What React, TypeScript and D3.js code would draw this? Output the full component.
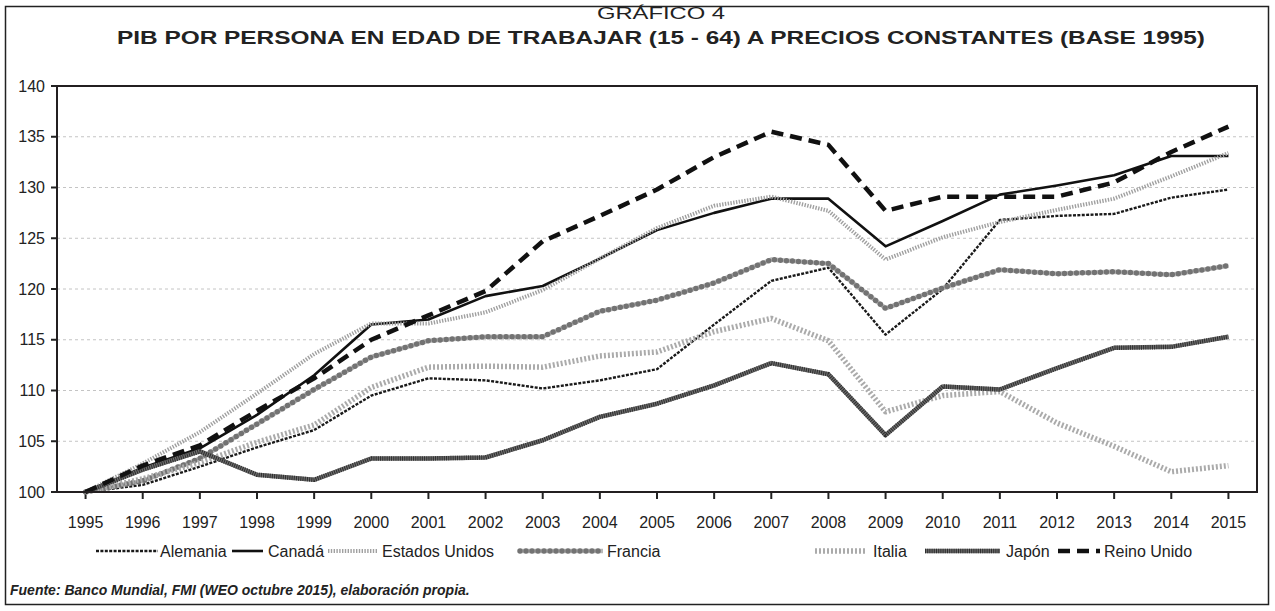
import React from "react";
import * as d3 from "d3";

const years = ["1995","1996","1997","1998","1999","2000","2001","2002","2003","2004","2005","2006","2007","2008","2009","2010","2011","2012","2013","2014","2015"];
const yTicks = [100, 105, 110, 115, 120, 125, 130, 135, 140];

const alemania = [100, 100.7, 102.5, 104.4, 106.1, 109.5, 111.2, 111.0, 110.2, 111.0, 112.1, 116.5, 120.8, 122.1, 115.5, 120.0, 126.8, 127.2, 127.4, 129.0, 129.8];
const canada = [100, 102.4, 104.3, 107.6, 111.5, 116.5, 117.0, 119.3, 120.3, 123.0, 125.8, 127.5, 128.9, 128.9, 124.2, 126.7, 129.3, 130.2, 131.2, 133.1, 133.1];
const eeuu = [100, 102.8, 105.9, 109.7, 113.6, 116.6, 116.6, 117.7, 119.9, 123.0, 126.0, 128.2, 129.1, 127.7, 122.9, 125.1, 126.6, 127.8, 128.9, 131.1, 133.4];
const francia = [100, 101.1, 103.3, 106.7, 110.1, 113.3, 114.9, 115.3, 115.3, 117.8, 118.9, 120.6, 122.9, 122.5, 118.1, 120.1, 121.9, 121.5, 121.7, 121.4, 122.3];
const italia = [100, 101.3, 102.9, 104.9, 106.6, 110.3, 112.3, 112.4, 112.3, 113.4, 113.8, 115.8, 117.1, 114.9, 107.9, 109.5, 109.9, 106.8, 104.5, 102.0, 102.6];
const japon = [100, 102.2, 104.0, 101.7, 101.2, 103.3, 103.3, 103.4, 105.1, 107.4, 108.7, 110.5, 112.7, 111.6, 105.6, 110.4, 110.1, 112.2, 114.2, 114.3, 115.3];
const reinoUnido = [100, 102.6, 104.6, 108.0, 111.2, 115.0, 117.4, 119.8, 124.7, 127.2, 129.8, 133.0, 135.5, 134.2, 127.7, 129.1, 129.1, 129.1, 130.5, 133.5, 136.0];

const seriesNames = ["Alemania", "Canadá", "Estados Unidos", "Francia", "Italia", "Japón", "Reino Unido"];
const seriesValues = [alemania, canada, eeuu, francia, italia, japon, reinoUnido];

const W = 1275, H = 611;
const left = 57, right = 1257, top = 86, bottom = 492;
const FONT = "'Liberation Sans', Arial, Helvetica, sans-serif";

type Layer = { stroke: string; width: number; dash?: string; cap?: "butt" | "round" | "square" };
const styles: Layer[][] = [
  [{ stroke: "#1a1a1a", width: 2.4, dash: "3,1.4" }],
  [{ stroke: "#111", width: 2.6 }],
  [{ stroke: "#a0a0a0", width: 4, dash: "1.4,1.4" }],
  [{ stroke: "#b8b8b8", width: 4.5 }, { stroke: "#737373", width: 5.5, dash: "0,6", cap: "round" }],
  [{ stroke: "#ababab", width: 5.5, dash: "2,2" }],
  [{ stroke: "#6e6e6e", width: 4.5 }, { stroke: "#2e2e2e", width: 4.5, dash: "1,1.2" }],
  [{ stroke: "#111", width: 4.5, dash: "12,7" }],
];

const legendPos = [
  { x1: 96, x2: 158, tx: 160 },
  { x1: 232, x2: 263, tx: 268 },
  { x1: 328, x2: 377, tx: 382 },
  { x1: 520, x2: 603, tx: 607 },
  { x1: 815, x2: 866, tx: 873 },
  { x1: 925, x2: 1000, tx: 1006 },
  { x1: 1058, x2: 1100, tx: 1104 },
];

export default function App() {
  const x = d3.scaleBand<string>().domain(years).range([left, right]);
  const y = d3.scaleLinear().domain([100, 140]).range([bottom, top]);
  const cx = (yr: string) => (x(yr) as number) + x.bandwidth() / 2;
  const line = d3.line<number>().x((_, i) => cx(years[i])).y((v) => y(v));

  return (
    <svg width={W} height={H} style={{ position: "absolute", left: 0, top: 0, background: "#fff" }} fontFamily={FONT}>
      <rect x={0} y={0} width={W} height={H} fill="#fff" />
      <rect x={5.5} y={6.5} width={1263} height={598} fill="none" stroke="#222" strokeWidth={1.5} />
      <text x={661} y={19} textAnchor="middle" fontSize={16} fill="#222" textLength={128} lengthAdjust="spacingAndGlyphs">GRÁFICO 4</text>
      <text x={661} y={44} textAnchor="middle" fontSize={19} fontWeight="bold" fill="#222" textLength={1088} lengthAdjust="spacingAndGlyphs">
        PIB POR PERSONA EN EDAD DE TRABAJAR (15 - 64) A PRECIOS CONSTANTES (BASE 1995)
      </text>

      {yTicks.filter((t) => t > 100 && t < 140).map((t) => (
        <line key={t} x1={left} x2={right} y1={y(t)} y2={y(t)} stroke="#c4c4c4" strokeWidth={1} strokeDasharray="3,3" />
      ))}

      {yTicks.map((t) => (
        <g key={"yt" + t}>
          <line x1={left - 6} x2={left} y1={y(t)} y2={y(t)} stroke="#222" strokeWidth={2} />
          <text x={left - 12} y={y(t) + 5.5} textAnchor="end" fontSize={16} fill="#222">{t}</text>
        </g>
      ))}

      {years.map((yr) => (
        <g key={"xt" + yr}>
          <line x1={cx(yr)} x2={cx(yr)} y1={bottom} y2={bottom + 7} stroke="#222" strokeWidth={2} />
          <text x={cx(yr)} y={bottom + 36} textAnchor="middle" fontSize={16} fill="#222">{yr}</text>
        </g>
      ))}

      {seriesValues.map((vals, si) =>
        styles[si].map((st, li) => (
          <path key={si + "-" + li} d={line(vals) as string} fill="none" stroke={st.stroke} strokeWidth={st.width}
            strokeDasharray={st.dash} strokeLinecap={st.cap || "butt"} strokeLinejoin="round" />
        ))
      )}

      <path d={`M${left},${bottom} L${left},${top} L${right},${top} L${right},${bottom} Z`} fill="none" stroke="#231f20" strokeWidth={2} />

      {seriesNames.map((name, si) => {
        const lp = legendPos[si];
        const ly = 551;
        return (
          <g key={"lg" + si}>
            {styles[si].map((st, li) => (
              <line key={li} x1={lp.x1} x2={lp.x2} y1={ly} y2={ly} stroke={st.stroke} strokeWidth={st.width}
                strokeDasharray={st.dash} strokeLinecap={st.cap || "butt"} />
            ))}
            <text x={lp.tx} y={ly + 6} fontSize={16} fill="#222">{name}</text>
          </g>
        );
      })}

      <text x={10} y={595} fontSize={14} fontWeight="bold" fontStyle="italic" fill="#222">
        Fuente: Banco Mundial, FMI (WEO octubre 2015), elaboración propia.
      </text>
    </svg>
  );
}
